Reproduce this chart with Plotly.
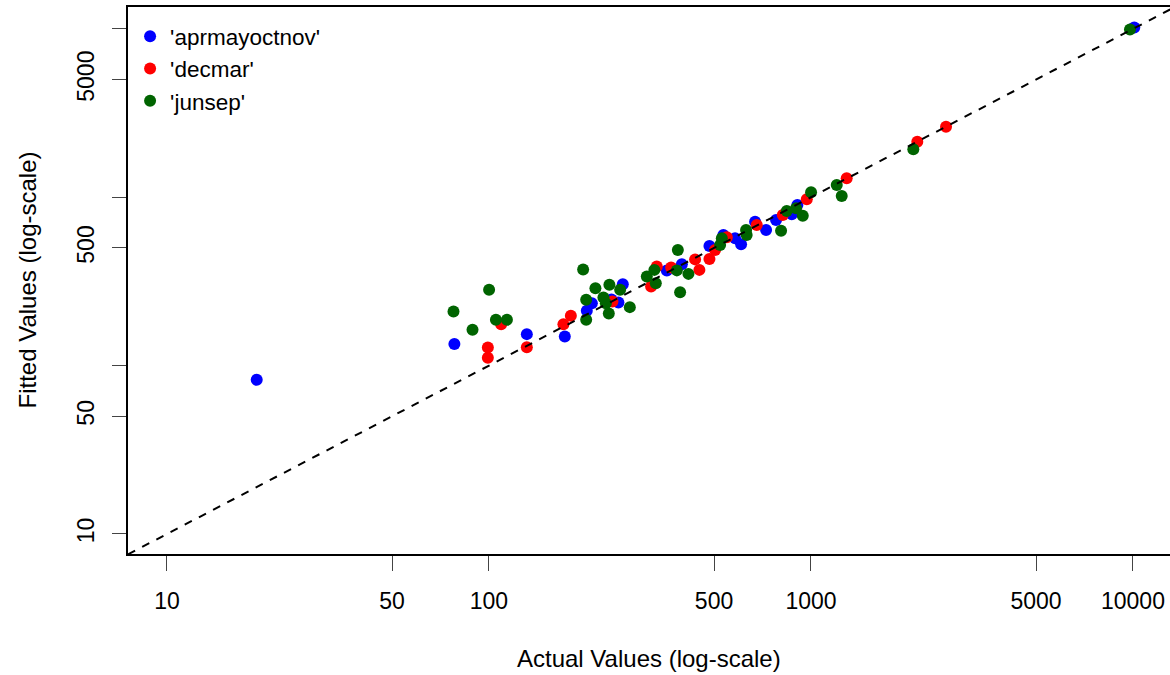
import plotly.graph_objects as go

# ---- data (actual, fitted) ----
apr_actual = [19.0, 78.1, 131.1, 172.0, 201.3, 208.7, 240.1, 252.4, 260.4, 356.7, 397.2,
              483.8, 534.6, 581.2, 606.7, 670.6, 725.5, 779.2, 871.7, 907.4, 10093]
apr_fitted = [82.4, 134.2, 153.8, 148.8, 211.5, 234.9, 246.8, 236.9, 304.6, 366.8, 400.4,
              514.0, 597.2, 571.0, 526.1, 716.4, 639.4, 733.3, 792.7, 900.3, 10207]

dec_actual = [99.2, 99.2, 109.1, 131.1, 170.3, 179.6, 241.8, 318.8, 332.0, 367.9, 436.7,
              450.3, 483.8, 503.8, 547.8, 678.7, 817.4, 970.5, 1291, 2139, 2627]
dec_fitted = [128.0, 111.2, 176.3, 128.4, 176.3, 197.5, 240.1, 294.7, 387.4, 382.2, 427.5,
              370.3, 430.4, 486.7, 578.9, 684.8, 785.2, 973.0, 1296, 2138, 2624]

jun_actual = [77.6, 88.9, 100.1, 105.1, 113.7, 196.1, 200.4, 200.4, 214.1, 226.7, 230.7,
              235.6, 236.6, 255.5, 273.8, 309.2, 326.4, 329.7, 386.0, 383.2, 416.3, 392.3,
              522.2, 528.6, 628.7, 631.4, 807.6, 841.1, 899.0, 943.1, 1000.7, 1202.5, 1246,
              2079, 9788]
jun_fitted = [209.5, 163.1, 281.8, 187.0, 187.0, 371.8, 245.8, 187.0, 288.4, 253.6, 234.9,
              203.8, 301.7, 281.8, 222.5, 338.0, 370.3, 308.9, 486.7, 367.8, 350.6, 273.1,
              521.2, 571.0, 639.4, 597.2, 633.4, 829.3, 860.4, 777.6, 1070.7, 1183, 1018,
              1927, 9931]

series_names = ["'aprmayoctnov'", "'decmar'", "'junsep'"]
series_colors = ["#0000FF", "#FF0000", "#006400"]

x_tickvals = [10, 50, 100, 500, 1000, 5000, 10000]
x_ticktext = ["10", "50", "100", "500", "1000", "5000", "10000"]
y_tickvals = [10, 50, 100, 500, 1000, 5000, 10000]
y_ticktext = ["10", "50", "", "500", "", "5000", ""]

x_range_log = [0.879, 4.115]
y_range_log = [0.881, 4.13]

FONT = "Liberation Sans, Arial, sans-serif"

fig = go.Figure()
for xs, ys, name, col in zip([apr_actual, dec_actual, jun_actual],
                             [apr_fitted, dec_fitted, jun_fitted],
                             series_names, series_colors):
    fig.add_trace(go.Scatter(x=xs, y=ys, mode="markers", name=name,
                             marker=dict(color=col, size=12, line=dict(width=0))))

# identity reference line spanning the axis range
lo = 10 ** min(x_range_log[0], y_range_log[0])
hi = 10 ** max(x_range_log[1], y_range_log[1])
fig.add_trace(go.Scatter(x=[lo, hi], y=[lo, hi], mode="lines", showlegend=False,
                         line=dict(color="black", width=2, dash="8px,8px"),
                         hoverinfo="skip"))

fig.update_layout(
    width=1170, height=675,
    margin=dict(l=128, r=0, t=7, b=121),
    paper_bgcolor="white", plot_bgcolor="white",
    font=dict(family=FONT, size=23, color="black"),
    showlegend=True,
    legend=dict(x=0.002, y=0.985, xanchor="left", yanchor="top",
                bgcolor="rgba(0,0,0,0)", borderwidth=0,
                font=dict(family=FONT, size=22.5, color="black"),
                itemsizing="constant"),
    xaxis=dict(type="log", range=x_range_log, tickvals=x_tickvals, ticktext=x_ticktext,
               ticks="outside", ticklen=15, tickwidth=1, tickcolor="#444",
               showline=True, linecolor="black", linewidth=2, mirror=True,
               showgrid=False, zeroline=False, automargin=False,
               ticklabelstandoff=10, tickfont=dict(size=23)),
    yaxis=dict(type="log", range=y_range_log, tickvals=y_tickvals, ticktext=y_ticktext,
               ticks="outside", ticklen=14, tickwidth=1, tickcolor="#444",
               showline=True, linecolor="black", linewidth=2, mirror=False,
               showgrid=False, zeroline=False, automargin=False,
               tickangle=-90, ticklabelstandoff=9, tickfont=dict(size=23)),
    annotations=[
        dict(text="Actual Values (log-scale)", xref="paper", yref="paper",
             x=0.5, y=0, xanchor="center", yanchor="middle", yshift=-104,
             showarrow=False, font=dict(size=24)),
        dict(text="Fitted Values (log-scale)", xref="paper", yref="paper",
             x=0, y=0.5, xanchor="center", yanchor="middle", xshift=-101,
             textangle=-90, showarrow=False, font=dict(size=24)),
    ],
)

fig.write_html("out.html", config={"displayModeBar": False},
               post_script="document.body.style.margin='0px';document.body.style.overflow='hidden';")
